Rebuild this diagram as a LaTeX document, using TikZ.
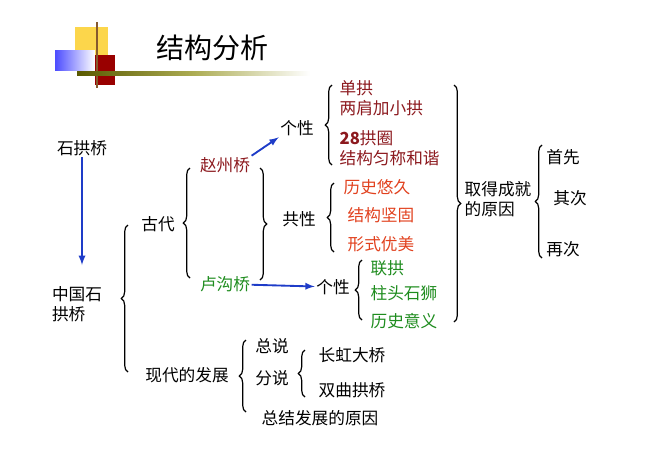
\documentclass[tikz,border=0pt]{standalone}
\usepackage{fontspec}
\setmainfont{Noto Sans CJK SC}
\usetikzlibrary{decorations.pathreplacing}
\definecolor{brick}{RGB}{140,25,30}
\definecolor{flame}{RGB}{225,65,30}
\definecolor{leaf}{RGB}{30,140,30}
\definecolor{arrowblue}{RGB}{30,60,200}
\tikzstyle{word}=[inner sep = 1pt, font = \fontsize{12.5}{15}\selectfont]
\tikzstyle{brace}=[decorate, decoration = {brace, amplitude = 5pt}, line width = 0.9pt]
\tikzstyle{link}=[->, >=latex, arrowblue, line width = 1.4pt]

\begin{document}
\begin{tikzpicture}[x = 0.75pt, y = -0.75pt]
\useasboundingbox (0,0) rectangle (663,469);
% title decoration
\fill[yellow!60!orange!70] (75,27) rectangle (108,55);
\shade[left color = blue!70, right color = white] (55,50) rectangle (95,70);
\fill[red!60!black] (95,55) rectangle (115,85);
\draw[line width = 1pt, brown!70!black] (97,22) -- (97,88);
\shade[left color = olive!70!black, right color = white] (77,71.5) rectangle (310,75);
\node[inner sep = 0pt, font = \fontsize{21}{24}\selectfont] (title) at (212,48) {结构分析};
% left column
\node[word] (stone) at (82,148) {石拱桥};
\node[word, align = left] (china) at (77,304) {中国石\\拱桥};
\draw[link] (stone) -- (82,265);
\draw[brace] (128,372) -- (128,225);
\node[word] (ancient) at (158,224) {古代};
\node[word] (modern) at (187,375) {现代的发展};
% ancient bridges
\draw[brace] (190,278) -- (190,168);
\node[word, brick] (zhao) at (225,165) {赵州桥};
\node[word, leaf] (lugou) at (225,284) {卢沟桥};
\draw[brace] (260,168) -- (260,280);
\node[word] (traitA) at (297,128) {个性};
\draw[link] (zhao.north east) -- (traitA.south west);
\draw[brace] (332,165) -- (332,85);
\node[word, brick, anchor = west] (a1) at (338,88) {单拱};
\node[word, brick, anchor = west] (a2) at (338,108) {两肩加小拱};
\node[word, brick, anchor = west] (a3) at (338,138) {\textbf{28}拱圈};
\node[word, brick, anchor = west] (a4) at (338,158) {结构匀称和谐};
\node[word] (common) at (299,219) {共性};
\draw[brace] (334,252) -- (334,183);
\node[word, flame, anchor = west] (c1) at (342,187) {历史悠久};
\node[word, flame, anchor = west] (c2) at (346,215) {结构坚固};
\node[word, flame, anchor = west] (c3) at (346,244) {形式优美};
\node[word] (traitB) at (333,287) {个性};
\draw[link] (lugou) -- (traitB);
\draw[brace] (362,320) -- (362,260);
\node[word, leaf, anchor = west] (b1) at (369,268) {联拱};
\node[word, leaf, anchor = west] (b2) at (369,293) {柱头石狮};
\node[word, leaf, anchor = west] (b3) at (369,321) {历史意义};
% reasons
\draw[brace] (454,85) -- (454,322);
\node[word, align = left] (reason) at (498,199) {取得成就\\的原因};
\draw[brace] (542,258) -- (542,145);
\node[word] (first) at (563,157) {首先};
\node[word] (second) at (570,198) {其次};
\node[word] (third) at (563,249) {再次};
% modern
\draw[brace] (246,412) -- (246,340);
\node[word] (general) at (272,346) {总说};
\node[word] (detail) at (272,378) {分说};
\node[word] (summary) at (320,418) {总结发展的原因};
\draw[brace] (305,397) -- (305,350);
\node[word] (rainbow) at (352,355) {长虹大桥};
\node[word] (double) at (352,390) {双曲拱桥};
\end{tikzpicture}
\end{document}
